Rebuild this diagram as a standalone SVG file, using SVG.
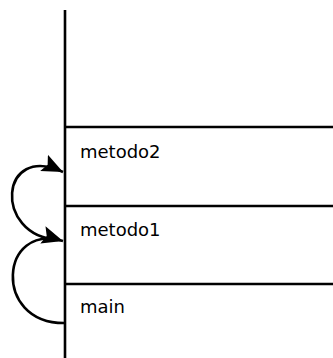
<svg xmlns="http://www.w3.org/2000/svg" width="333" height="358" viewBox="0 0 333 358">
<style>
.ln{stroke:#000;stroke-width:2.6;fill:none}
.arc{stroke:#000;stroke-width:2.6;fill:none;marker-end:url(#ah)}
.lbl{font-family:"DejaVu Sans",sans-serif;font-size:18px;fill:#000}
</style>
<defs>
<marker id="ah" markerUnits="userSpaceOnUse" markerWidth="24" markerHeight="20" refX="21" refY="10" orient="auto">
<path d="M0,1 L21,10 L0,19 L4,10 Z" fill="#000"/>
</marker>
</defs>
<rect width="333" height="358" fill="#fff"/>
<g id="stack">
<line class="ln" x1="65" y1="10" x2="65" y2="358"/>
</g>
<g id="metodo2">
<line class="ln" x1="65" y1="127" x2="333" y2="127"/>
<text class="lbl" x="80" y="158">metodo2</text>
</g>
<g id="metodo1">
<line class="ln" x1="65" y1="206" x2="333" y2="206"/>
<text class="lbl" x="80" y="236">metodo1</text>
</g>
<g id="main">
<line class="ln" x1="65" y1="284" x2="333" y2="284"/>
<text class="lbl" x="80" y="313">main</text>
</g>
<g id="connectors">
<path class="arc" d="M64,323 C-8,323 0,222 63,241"/>
<path class="arc" d="M58,240 C-8,235 0,142 63,172"/>
</g>
</svg>
